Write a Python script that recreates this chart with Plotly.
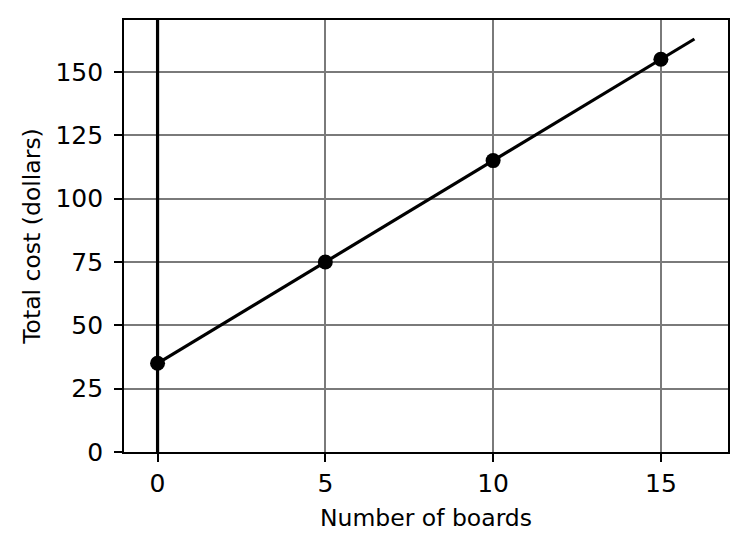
import plotly.graph_objects as go

# Data
boards = [0, 5, 10, 15]
costs = [35, 75, 115, 155]
line_boards = [0, 16]
line_costs = [35, 163]
vline_x = [0, 0]
vline_y = [0, 170.5]
x_ticks = [0, 5, 10, 15]
y_ticks = [0, 25, 50, 75, 100, 125, 150]

FONT = "DejaVu Sans"

fig = go.Figure()
fig.add_trace(go.Scatter(x=vline_x, y=vline_y, mode="lines",
                         line=dict(color="black", width=3.2), showlegend=False,
                         hoverinfo="skip"))
fig.add_trace(go.Scatter(x=line_boards, y=line_costs, mode="lines",
                         line=dict(color="black", width=3.2), showlegend=False))
fig.add_trace(go.Scatter(x=boards, y=costs, mode="markers",
                         marker=dict(color="black", size=15, symbol="circle"),
                         showlegend=False))

# page body has an 8px margin, so the figure is offset by (8, 8)
fig.update_layout(
    width=738, height=544,
    margin=dict(l=116, r=18, t=10, b=100),
    plot_bgcolor="white", paper_bgcolor="white",
    font=dict(family=FONT, color="black"),
)
axis_common = dict(
    showline=True, mirror=True, linecolor="black", linewidth=1.8,
    showgrid=True, gridcolor="#7a7a7a", gridwidth=1.5,
    ticks="outside", ticklen=8, tickwidth=1.8, tickcolor="black",
    zeroline=False, tickfont=dict(family=FONT, size=25, color="black"),
)
fig.update_xaxes(range=[-1, 17], tickvals=x_ticks,
                 ticktext=[str(v) for v in x_ticks],
                 title=dict(text="Number of boards", font=dict(family=FONT, size=23.5),
                            standoff=13),
                 **axis_common)
fig.update_yaxes(range=[0, 170.5], tickvals=y_ticks,
                 ticktext=[str(v) for v in y_ticks],
                 ticklabelstandoff=6,
                 title=dict(text="Total cost (dollars)", font=dict(family=FONT, size=23.5),
                            standoff=8),
                 **axis_common)

fig.write_html("out.html")
